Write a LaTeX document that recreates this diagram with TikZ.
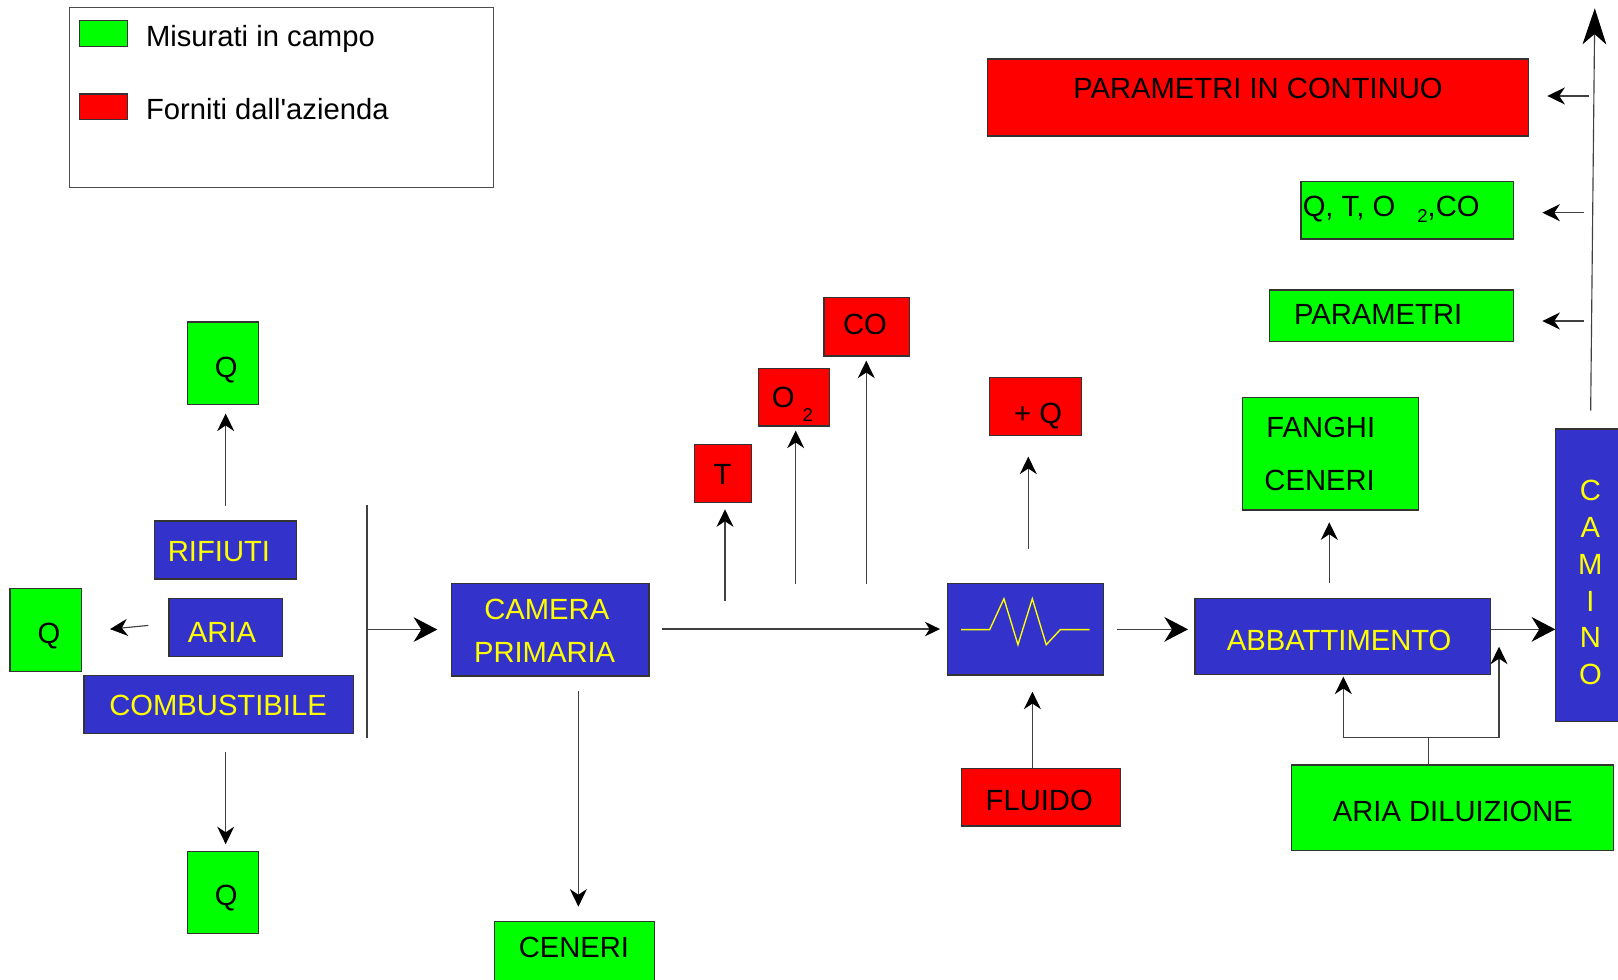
\documentclass[tikz,border=0pt]{standalone}
\usepackage{fontspec}
\setmainfont{Liberation Sans}
\usetikzlibrary{arrows.meta}
\definecolor{bblue}{HTML}{3333CC}
\definecolor{ggreen}{HTML}{00FF00}
\definecolor{rred}{HTML}{FF0000}
\definecolor{yyel}{HTML}{FFFF00}
\begin{document}
\begin{tikzpicture}[x=1pt,y=-1pt,
  bx/.style={draw=black!80, line width=1.1pt, inner sep=0pt, outer sep=0pt, anchor=north west},
  blu/.style={bx, fill=bblue},
  grn/.style={bx, fill=ggreen},
  rd/.style={bx, fill=rred},
  txt/.style={inner sep=0pt, outer sep=0pt, text height=20.2pt, text depth=0pt, font=\fontsize{28.3}{34}\selectfont},
  ytxt/.style={txt, text=yyel},
  sm/.style={inner sep=0pt, outer sep=0pt, text height=13pt, text depth=0pt, font=\fontsize{18}{21}\selectfont},
  ln/.style={draw=black!75, line width=1.1pt},
  sarr/.style={ln, -{Stealth[length=17pt, width=16.5pt, inset=5.5pt, black]}},
  marr/.style={ln, -{Stealth[length=14.5pt, width=14pt, inset=4.5pt, black]}},
  barr/.style={ln, -{Stealth[length=23pt, width=24pt, inset=7.5pt, black]}},
  tarr/.style={ln, -{Stealth[length=35pt, width=23pt, inset=10pt, black]}},
]
\fill[white] (0,0) rectangle (1568,949);
\useasboundingbox (0,0) rectangle (1568,949);

% legend
\node[bx, draw=black!70, line width=1pt, fill=white, minimum width=410.8pt, minimum height=174.4pt] (legend) at (67.2,7.1) {};
\node[grn, minimum width=46.8pt, minimum height=25.2pt] (sw1) at (76.9,20) {};
\node[rd, minimum width=46.8pt, minimum height=24.5pt] (sw2) at (76.9,91.1) {};
\node[txt, anchor=west] (lg1) at (141.5,34.6) {Misurati in campo};
\node[txt, anchor=west] (lg2) at (141.5,105.3) {Forniti dall\textquotesingle azienda};

% left group
\node[grn, minimum width=68.8pt, minimum height=79.9pt] (qtop) at (181.9,312) {};
\node[txt] (qtopt) at (219.3,356) {Q};
\node[blu, minimum width=137.9pt, minimum height=56.2pt] (rifiuti) at (149.6,504.9) {};
\node[ytxt] (rifiutit) at (212.2,534.2) {RIFIUTI};
\node[blu, minimum width=109.8pt, minimum height=56.3pt] (aria) at (163.8,579.9) {};
\node[ytxt] (ariat) at (215.1,612.6) {ARIA};
\node[blu, minimum width=261pt, minimum height=55.8pt] (comb) at (81.4,655) {};
\node[ytxt] (combt) at (211.3,682.9) {COMBUSTIBILE};
\node[grn, minimum width=69.1pt, minimum height=80.4pt] (qleft) at (9.7,570.1) {};
\node[txt] (qleftt) at (47.5,613.6) {Q};
\node[grn, minimum width=68.8pt, minimum height=79.5pt] (qbot) at (181.9,825.1) {};
\node[txt] (qbott) at (219.3,867.8) {Q};

% camera primaria
\node[blu, minimum width=191.2pt, minimum height=89.8pt] (camera) at (437.7,565.3) {};
\node[ytxt] (camt1) at (529.9,590) {CAMERA};
\node[ytxt] (camt2) at (527.8,631.5) {PRIMARIA};
\node[grn, minimum width=154.9pt, minimum height=58.8pt] (ceneri) at (479.2,893.2) {};
\node[txt] (cenerit) at (556.2,917.8) {CENERI};

% T, O2, CO
\node[rd, minimum width=55.5pt, minimum height=56.5pt] (tbox) at (672.9,430.6) {};
\node[txt] (tt) at (700.2,459.2) {T};
\node[rd, minimum width=68.8pt, minimum height=55.9pt] (obox) at (734.9,356.9) {};
\node[txt] (ot) at (759,385.2) {O};
\node[sm] (o2t) at (782.7,401.5) {2};
\node[rd, minimum width=82.7pt, minimum height=56.5pt] (cobox) at (798.5,288.5) {};
\node[txt] (cot) at (838.2,313.8) {CO};

% heat exchanger
\node[blu, minimum width=150.8pt, minimum height=88.8pt] (heat) at (918.4,565.3) {};
\draw[yyel, line width=1.3pt] (931.3,610.2) -- (959.1,610.2) -- (972.9,580.2) -- (986.5,624.8) -- (1000.4,580.2) -- (1013.9,624.8) -- (1027.5,610.2) -- (1056,610.2);
\node[rd, minimum width=89.7pt, minimum height=56.2pt] (plusq) at (958.6,365.7) {};
\node[txt] (plusqt) at (1006,400.2) {+ Q};
\node[rd, minimum width=154.4pt, minimum height=55.9pt] (fluido) at (931.7,744.6) {};
\node[txt] (fluidot) at (1007.1,775.7) {FLUIDO};

% abbattimento
\node[blu, minimum width=286.7pt, minimum height=73.7pt] (abb) at (1158,579.8) {};
\node[ytxt] (abbt) at (1297.8,619.9) {ABBATTIMENTO};
\node[grn, minimum width=170.6pt, minimum height=108.8pt] (fanghi) at (1204,385.4) {};
\node[txt, anchor=west] (fanghit) at (1227.3,414.3) {FANGHI};
\node[txt, anchor=west] (fanghit2) at (1225.4,465.7) {CENERI};
\node[grn, minimum width=312.1pt, minimum height=83pt] (ariad) at (1251.2,741.4) {};
\node[txt] (ariadt) at (1408,785.8) {ARIA DILUIZIONE};

% camino
\node[blu, minimum width=62.8pt, minimum height=283.7pt] (camino) at (1507.2,415.7) {};
\node[inner sep=0pt, text=yyel, align=center, font=\fontsize{28.3}{35.8}\selectfont] (camt) at (1541.2,564.5) {C\\A\\M\\I\\N\\O};

% top right
\node[rd, minimum width=524.6pt, minimum height=74.6pt] (pic) at (956.7,57.2) {};
\node[txt] (pict) at (1219.1,85.3) {PARAMETRI IN CONTINUO};
\node[grn, minimum width=205.7pt, minimum height=55.6pt] (qto) at (1260.8,176) {};
\node[txt, anchor=west] (qtot1) at (1262.5,199.3) {Q, T, O};
\node[sm] (qtot2) at (1378.5,209) {2};
\node[txt, anchor=west] (qtot3) at (1383.5,199.3) {,CO};
\node[grn, minimum width=236.7pt, minimum height=50.1pt] (param) at (1230.4,281) {};
\node[txt] (paramt) at (1335.5,304.8) {PARAMETRI};

% coordinates for connector ends
\coordinate (a1s) at (218.7,490.5); \coordinate (a1e) at (218.7,400.8);
\coordinate (a2s) at (143.7,606.1); \coordinate (a2e) at (106.6,609.7);
\coordinate (a3s) at (218.7,729.2); \coordinate (a3e) at (218.7,818.1);
\coordinate (bart) at (355.7,489.8); \coordinate (barb) at (355.7,714.9);
\coordinate (a5s) at (355.7,610.1); \coordinate (a5e) at (423.8,610.1);
\coordinate (a6s) at (560.5,670); \coordinate (a6e) at (560.5,878.6);
\coordinate (a7s) at (641.8,609.6); \coordinate (a7e) at (910.9,609.6);
\coordinate (a8s) at (702.6,582.4); \coordinate (a8e) at (702.6,493.6);
\coordinate (a9s) at (771.1,566); \coordinate (a9e) at (771.1,417.3);
\coordinate (a10s) at (839.5,566); \coordinate (a10e) at (839.5,349.5);
\coordinate (a11s) at (996.5,531.7); \coordinate (a11e) at (996.5,442.5);
\coordinate (a12e) at (1000.5,670.3);
\coordinate (a13s) at (1082.4,609.9); \coordinate (a13e) at (1151.3,609.9);
\coordinate (a14s) at (1288.2,565.3); \coordinate (a14e) at (1288.2,506.2);
\coordinate (a15s) at (1444.7,609.9); \coordinate (a15e) at (1507.2,609.9);
\coordinate (dj) at (1384.7,714.5);
\coordinate (dl) at (1301.8,655.7); \coordinate (dr) at (1452.7,626.7);
\coordinate (cs) at (1541.5,398); \coordinate (ce) at (1545.5,8);
\coordinate (r1s) at (1540.2,93); \coordinate (r1e) at (1499.5,93);
\coordinate (r2s) at (1535,206.1); \coordinate (r2e) at (1494.7,206.1);
\coordinate (r3s) at (1535,311.1); \coordinate (r3e) at (1494.7,311.1);

% connectors
\draw[sarr] (a1s) -- (a1e);
\draw[sarr] (a2s) -- (a2e);
\draw[sarr] (a3s) -- (a3e);
\draw[ln] (bart) -- (barb);
\draw[barr] (a5s) -- (a5e);
\draw[sarr] (a6s) -- (a6e);
\draw[marr] (a7s) -- (a7e);
\draw[sarr] (a8s) -- (a8e);
\draw[sarr] (a9s) -- (a9e);
\draw[sarr] (a10s) -- (a10e);
\draw[sarr] (a11s) -- (a11e);
\draw[sarr] (fluido.north -| a12e) -- (a12e);
\draw[barr] (a13s) -- (a13e);
\draw[sarr] (a14s) -- (a14e);
\draw[barr] (a15s) -- (a15e);
\draw[ln] (ariad.north -| dj) -- (dj);
\draw[sarr] (dj) -| (dl);
\draw[sarr] (dj) -| (dr);
\draw[tarr] (cs) -- (ce);
\draw[sarr] (r1s) -- (r1e);
\draw[sarr] (r2s) -- (r2e);
\draw[sarr] (r3s) -- (r3e);
\end{tikzpicture}
\end{document}
